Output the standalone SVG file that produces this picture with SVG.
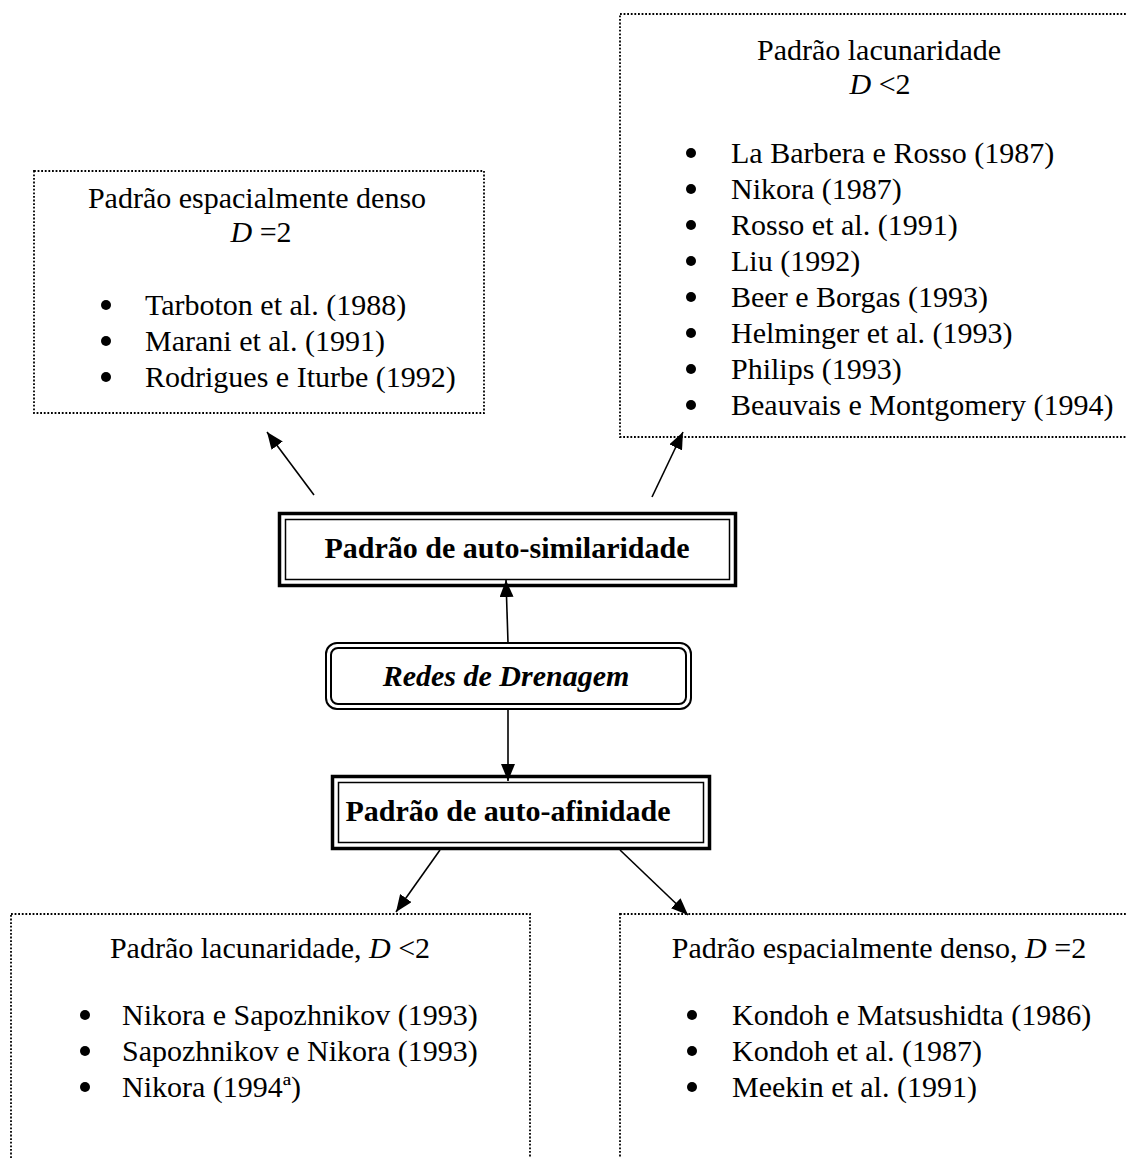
<svg xmlns="http://www.w3.org/2000/svg" width="1127" height="1158" viewBox="0 0 1127 1158">
<defs>
<style>
.t{font-family:"Liberation Serif","Times New Roman",serif;font-size:30px;fill:#000}
.b{font-weight:bold}
.i{font-style:italic}
.dot{fill:none;stroke:#000;stroke-width:1.8;stroke-dasharray:1.8 1.8}
.thick{fill:none;stroke:#000;stroke-width:3.5}
.thin{fill:none;stroke:#000;stroke-width:1.5}
.rnd{fill:none;stroke:#000;stroke-width:2}
.con{fill:none;stroke:#000;stroke-width:1.6}
.bul{fill:#000}
</style>
<marker id="ah" markerUnits="userSpaceOnUse" markerWidth="17" markerHeight="14" refX="17" refY="7" orient="auto">
<path d="M0,0 L17,7 L0,14 z" fill="#000"/>
</marker>
</defs>
<rect width="1127" height="1158" fill="#fff"/>

<g id="denso-top">
<rect class="dot" x="34" y="171" width="450" height="242"/>
<text class="t" x="257" y="208" text-anchor="middle">Padrão espacialmente denso</text>
<text class="t" x="261" y="242" text-anchor="middle"><tspan class="i">D</tspan> =2</text>
<circle class="bul" cx="106" cy="305" r="5"/>
<text class="t" x="145" y="315">Tarboton et al. (1988)</text>
<circle class="bul" cx="106" cy="341" r="5"/>
<text class="t" x="145" y="351">Marani et al. (1991)</text>
<circle class="bul" cx="106" cy="377" r="5"/>
<text class="t" x="145" y="387">Rodrigues e Iturbe (1992)</text>
</g>

<g id="lacunaridade-top">
<rect class="dot" x="620" y="14" width="520" height="423"/>
<text class="t" x="879" y="60" text-anchor="middle">Padrão lacunaridade</text>
<text class="t" x="880" y="94" text-anchor="middle"><tspan class="i">D</tspan> &lt;2</text>
<circle class="bul" cx="691" cy="153" r="5"/>
<text class="t" x="731" y="163">La Barbera e Rosso (1987)</text>
<circle class="bul" cx="691" cy="189" r="5"/>
<text class="t" x="731" y="199">Nikora (1987)</text>
<circle class="bul" cx="691" cy="225" r="5"/>
<text class="t" x="731" y="235">Rosso et al. (1991)</text>
<circle class="bul" cx="691" cy="261" r="5"/>
<text class="t" x="731" y="271">Liu (1992)</text>
<circle class="bul" cx="691" cy="297" r="5"/>
<text class="t" x="731" y="307">Beer e Borgas (1993)</text>
<circle class="bul" cx="691" cy="333" r="5"/>
<text class="t" x="731" y="343">Helminger et al. (1993)</text>
<circle class="bul" cx="691" cy="369" r="5"/>
<text class="t" x="731" y="379">Philips (1993)</text>
<circle class="bul" cx="691" cy="405" r="5"/>
<text class="t" x="731" y="415">Beauvais e Montgomery (1994)</text>
</g>

<g id="auto-similaridade">
<rect class="thick" x="279.5" y="513.5" width="456" height="72"/>
<rect class="thin" x="285.5" y="519.5" width="444" height="60"/>
<text class="t b" x="507" y="558" text-anchor="middle">Padrão de auto-similaridade</text>
</g>

<g id="redes">
<rect class="rnd" x="326" y="643" width="365" height="66" rx="11" ry="11"/>
<rect class="rnd" x="331" y="648" width="355" height="56" rx="7" ry="7"/>
<text class="t b i" x="506" y="686" text-anchor="middle">Redes de Drenagem</text>
</g>

<g id="auto-afinidade">
<rect class="thick" x="332.5" y="776.5" width="377" height="72"/>
<rect class="thin" x="338.5" y="782.5" width="365" height="60"/>
<text class="t b" x="508" y="821" text-anchor="middle">Padrão de auto-afinidade</text>
</g>

<g id="lacunaridade-bottom">
<rect class="dot" x="11" y="914" width="519" height="260"/>
<text class="t" x="270" y="958" text-anchor="middle">Padrão lacunaridade, <tspan class="i">D</tspan> &lt;2</text>
<circle class="bul" cx="85" cy="1015" r="5"/>
<text class="t" x="122" y="1025">Nikora e Sapozhnikov (1993)</text>
<circle class="bul" cx="85" cy="1051" r="5"/>
<text class="t" x="122" y="1061">Sapozhnikov e Nikora (1993)</text>
<circle class="bul" cx="85" cy="1087" r="5"/>
<text class="t" x="122" y="1097">Nikora (1994ª)</text>
</g>

<g id="denso-bottom">
<rect class="dot" x="620" y="914" width="520" height="260"/>
<text class="t" x="879" y="958" text-anchor="middle">Padrão espacialmente denso, <tspan class="i">D</tspan> =2</text>
<circle class="bul" cx="692" cy="1015" r="5"/>
<text class="t" x="732" y="1025">Kondoh e Matsushidta (1986)</text>
<circle class="bul" cx="692" cy="1051" r="5"/>
<text class="t" x="732" y="1061">Kondoh et al. (1987)</text>
<circle class="bul" cx="692" cy="1087" r="5"/>
<text class="t" x="732" y="1097">Meekin et al. (1991)</text>
</g>

<g id="connectors">
<line class="con" x1="314" y1="495" x2="267" y2="432" marker-end="url(#ah)"/>
<line class="con" x1="652" y1="497" x2="683" y2="432" marker-end="url(#ah)"/>
<line class="con" x1="508" y1="643" x2="506" y2="580" marker-end="url(#ah)"/>
<line class="con" x1="508" y1="709" x2="508" y2="781" marker-end="url(#ah)"/>
<line class="con" x1="440" y1="850" x2="396" y2="912" marker-end="url(#ah)"/>
<line class="con" x1="620" y1="850" x2="688" y2="915" marker-end="url(#ah)"/>
</g>
</svg>
